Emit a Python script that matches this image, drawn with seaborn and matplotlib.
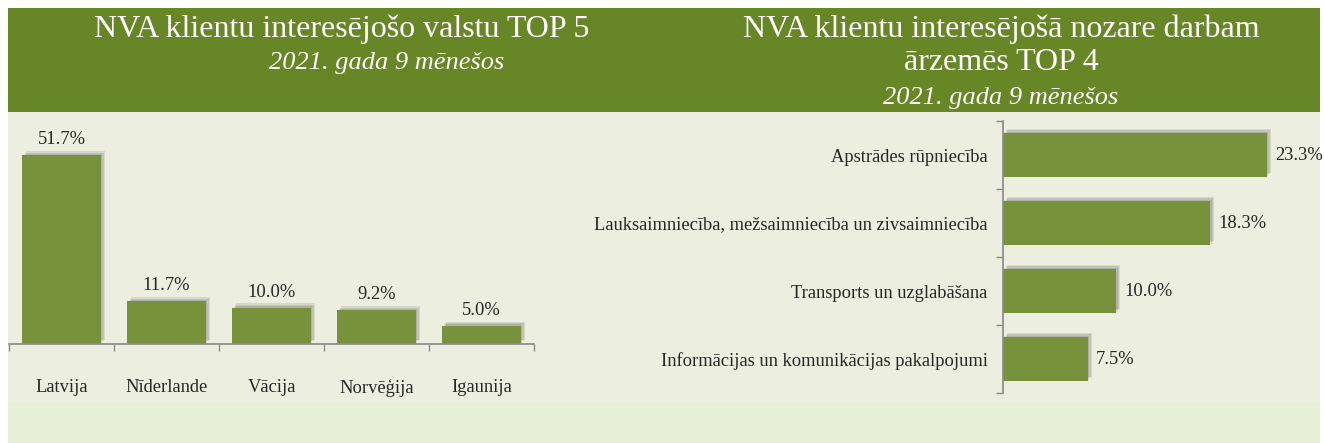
import matplotlib.pyplot as plt
import matplotlib.patheffects as pe
from matplotlib.patches import Rectangle
import seaborn as sns

# data
countries = ['Latvija', 'Nīderlande', 'Vācija', 'Norvēģija', 'Igaunija']
country_pct = [51.7, 11.7, 10.0, 9.2, 5.0]

sectors = ['Apstrādes rūpniecība',
           'Lauksaimniecība, mežsaimniecība un zivsaimniecība',
           'Transports un uzglabāšana',
           'Informācijas un komunikācijas pakalpojumi']
sector_pct = [23.3, 18.3, 10.0, 7.5]

left_title = 'NVA klientu interesējošo valstu TOP 5'
right_title = ['NVA klientu interesējošā nozare darbam', 'ārzemēs TOP 4']
subtitle = '2021. gada 9 mēnešos'

header_green = '#678726'
bar_green = '#77923a'
panel_bg = '#eceedf'
bottom_bg = '#e6f0d6'
axis_grey = '#8c8c8c'

sns.set_theme(style='white')
plt.rcParams['font.family'] = ['Liberation Serif', 'DejaVu Serif']

W, H = 1324, 443
fig = plt.figure(figsize=(W / 100, H / 100), dpi=100)
fig.patch.set_facecolor('white')


def px_rect(x0, y0, x1, y1, color):
    fig.patches.append(Rectangle((x0 / W, 1 - y1 / H), (x1 - x0) / W, (y1 - y0) / H,
                                 transform=fig.transFigure, facecolor=color,
                                 edgecolor='none', zorder=-10))


px_rect(8, 8, 1320, 112, header_green)
px_rect(8, 112, 1320, 402, panel_bg)
px_rect(8, 402, 1320, 443, bottom_bg)

# titles
fig.text(342 / W, 1 - 29 / H, left_title, ha='center', va='center', color='white', fontsize=23)
fig.text(387 / W, 1 - 63 / H, subtitle, ha='center', va='center', color='white',
         fontsize=19, style='italic')
fig.text(1001 / W, 1 - 29 / H, right_title[0], ha='center', va='center', color='white',
         fontsize=23)
fig.text(1001 / W, 1 - 63 / H, right_title[1], ha='center', va='center', color='white',
         fontsize=23)
fig.text(1001 / W, 1 - 98 / H, subtitle, ha='center', va='center', color='white',
         fontsize=19, style='italic')

# soft shadow, a few faint offset copies
shadow = [pe.SimplePatchShadow(offset=(d, d), shadow_rgbFace='#333333', alpha=0.12)
          for d in (3, 2, 1)] + [pe.Normal()]

label_size = 13.3

# left chart: vertical bars
ax1 = fig.add_axes([9 / W, 1 - 344 / H, 525 / W, 219 / H])
sns.barplot(x=countries, y=country_pct, ax=ax1, color=bar_green, width=0.75,
            saturation=1, edgecolor='none')
ax1.set_xlim(-0.5, 4.5)
ax1.set_ylim(0, 60)
ax1.patch.set_visible(False)
for s in ['top', 'right', 'left']:
    ax1.spines[s].set_visible(False)
ax1.spines['bottom'].set_color(axis_grey)
ax1.set_yticks([])
ax1.set_xticks(range(len(countries)))
ax1.set_xticklabels(countries, fontsize=label_size)
ax1.set_xticks([i - 0.5 for i in range(len(countries) + 1)], minor=True)
ax1.tick_params(axis='x', which='major', length=0, pad=25)
ax1.tick_params(axis='x', which='minor', length=5, color=axis_grey, bottom=True)
for bar, v in zip(ax1.patches, country_pct):
    bar.set_path_effects(shadow)
    ax1.annotate(f'{v:.1f}%', (bar.get_x() + bar.get_width() / 2, v),
                 xytext=(0, 5), textcoords='offset points', ha='center', va='bottom',
                 fontsize=label_size)

# right chart: horizontal bars
ax2 = fig.add_axes([1003 / W, 1 - 393 / H, 283 / W, 272 / H])
sns.barplot(x=sector_pct, y=sectors, ax=ax2, orient='h', color=bar_green, width=0.65,
            saturation=1, edgecolor='none')
ax2.set_xlim(0, 25)
ax2.set_ylim(3.5, -0.5)
ax2.patch.set_visible(False)
for s in ['top', 'right', 'bottom']:
    ax2.spines[s].set_visible(False)
ax2.spines['left'].set_color(axis_grey)
ax2.set_xticks([])
ax2.set_yticks(range(len(sectors)))
ax2.set_yticklabels(sectors, fontsize=label_size)
ax2.set_yticks([i - 0.5 for i in range(len(sectors) + 1)], minor=True)
ax2.tick_params(axis='y', which='major', length=0, pad=11)
ax2.tick_params(axis='y', which='minor', length=5, color=axis_grey, left=True)
for bar, v in zip(ax2.patches, sector_pct):
    bar.set_path_effects(shadow)
    ax2.annotate(f'{v:.1f}%', (v, bar.get_y() + bar.get_height() / 2),
                 xytext=(6, 0), textcoords='offset points', ha='left', va='center',
                 fontsize=label_size)

ax1.set_xlabel('')
ax2.set_ylabel('')
fig.savefig('out.png', dpi=100, facecolor='white')
